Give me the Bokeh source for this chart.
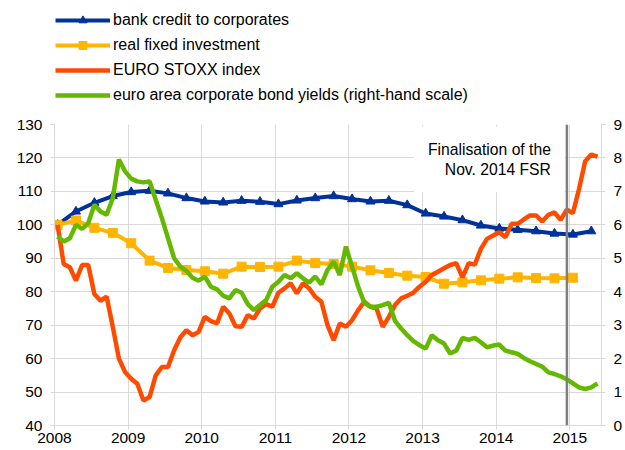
import numpy as np
from bokeh.plotting import figure
from bokeh.layouts import column
from bokeh.models import (Range1d, LinearAxis, Span, Label, Legend, LegendItem,
                          FixedTicker)
from bokeh.embed import file_html
from bokeh.resources import INLINE

# ---------------- data ----------------
years = [2008, 2009, 2010, 2011, 2012, 2013, 2014, 2015]
left_ticks = [40, 50, 60, 70, 80, 90, 100, 110, 120, 130]
right_ticks = [0, 1, 2, 3, 4, 5, 6, 7, 8, 9]

# monthly observations Jan 2008 .. May 2015 (plotted mid-month)
month_index = np.arange(89)
month_t = 2008 + (month_index + 0.5) / 12
# quarterly observations 2008Q1 .. 2014Q4 (plotted at first month of quarter)
quarter_index = np.arange(29)
quarter_t = 2008 + (3 * quarter_index + 0.5) / 12
credit_t = np.append(quarter_t, 2008 + (87 + 0.5) / 12)  # last obs: Apr 2015

bank_credit = [100.0, 104.0, 106.6, 108.6, 109.8, 110.2, 109.4, 108.0, 107.0, 106.7,
               107.2, 106.9, 106.2, 107.3, 108.0, 108.6, 107.7, 107.0, 107.2, 105.9,
               103.4, 102.5, 101.4, 99.8, 98.9, 98.5, 98.1, 97.4, 97.1, 98.1]

fixed_investment = [100.0, 101.3, 99.1, 97.6, 94.5, 89.3, 87.1, 86.5, 86.1, 85.4,
                    87.5, 87.4, 87.5, 89.3, 88.6, 88.3, 87.5, 86.4, 85.6, 84.8,
                    84.4, 82.4, 82.8, 83.4, 83.9, 84.3, 84.1, 84.0, 84.2]

euro_stoxx = [100.0, 88.3, 87.3, 83.3, 88.0, 88.0, 79.3, 77.3, 78.5, 69.5,
              60.0, 56.0, 54.0, 52.5, 47.5, 48.5, 55.0, 57.5, 57.5, 62.5,
              66.3, 68.5, 67.0, 68.0, 72.5, 71.2, 70.5, 75.5, 73.5, 69.7,
              69.5, 73.0, 72.0, 75.0, 76.3, 75.5, 79.7, 81.0, 82.5, 79.5,
              82.5, 81.0, 78.5, 77.0, 70.0, 65.5, 70.5, 69.5, 71.5, 74.5,
              77.0, 75.5, 75.0, 69.5, 72.5, 76.0, 78.0, 78.8, 79.7, 81.5,
              83.0, 85.0, 86.0, 87.0, 88.0, 88.5, 84.3, 88.5, 88.1, 92.8,
              95.8, 96.8, 97.8, 96.3, 100.3, 100.3, 101.6, 102.8, 102.8, 101.0,
              103.0, 103.7, 101.5, 104.5, 103.5, 110.7, 119.0, 121.0, 120.4]

bond_yields = [5.65, 5.50, 5.60, 6.00, 5.88, 6.05, 6.60, 6.40, 6.30, 6.80,
               7.95, 7.60, 7.38, 7.30, 7.27, 7.30, 6.75, 6.20, 5.60, 5.00,
               4.75, 4.62, 4.42, 4.33, 4.45, 4.15, 4.07, 3.88, 3.80, 4.05,
               3.97, 3.63, 3.45, 3.60, 3.75, 4.15, 4.30, 4.50, 4.40, 4.55,
               4.40, 4.27, 4.45, 4.22, 4.65, 4.90, 4.50, 5.35, 4.75, 4.15,
               3.67, 3.55, 3.55, 3.60, 3.67, 3.13, 2.90, 2.70, 2.52, 2.40,
               2.30, 2.70, 2.55, 2.45, 2.15, 2.24, 2.62, 2.56, 2.62, 2.49,
               2.34, 2.39, 2.42, 2.24, 2.19, 2.14, 2.02, 1.92, 1.84, 1.76,
               1.59, 1.54, 1.47, 1.38, 1.26, 1.14, 1.09, 1.14, 1.26]

fsr_date = 2014.96
fsr_text = "Finalisation of the\nNov. 2014 FSR"

labels = ["bank credit to corporates", "real fixed investment", "EURO STOXX index",
          "euro area corporate bond yields (right-hand scale)"]

BLUE, YELLOW, ORANGE, GREEN = "#003299", "#FFB400", "#FF4B00", "#65B800"
GRID = "#D9D9D9"
FONT = "Liberation Sans"

# ---------------- main chart ----------------
p = figure(width=625, height=336, output_backend="svg", toolbar_location=None,
           x_range=Range1d(2008, 2015.43), y_range=Range1d(40, 130),
           min_border_left=54, min_border_right=24, min_border_top=10,
           min_border_bottom=25)
p.extra_y_ranges = {"right": Range1d(0, 9)}
p.outline_line_color = None
p.background_fill_color = "white"

p.xaxis.ticker = FixedTicker(ticks=years)
p.yaxis.ticker = FixedTicker(ticks=left_ticks)
p.xgrid.ticker = FixedTicker(ticks=years)
p.ygrid.ticker = FixedTicker(ticks=left_ticks)
for g in (p.xgrid, p.ygrid):
    g.grid_line_color = GRID
    g.grid_line_width = 1

raxis = LinearAxis(y_range_name="right", ticker=FixedTicker(ticks=right_ticks))
p.add_layout(raxis, "right")

for ax in (p.xaxis[0], p.yaxis[0], raxis):
    ax.axis_line_color = GRID
    ax.major_tick_line_color = GRID
    ax.major_tick_out = 4
    ax.major_tick_in = 0
    ax.minor_tick_line_color = None
    ax.major_label_text_font = FONT
    ax.major_label_text_font_size = "15.5px"
    ax.major_label_text_color = "black"
p.yaxis[0].major_label_standoff = 8
raxis.major_label_standoff = 8
p.xaxis[0].major_label_standoff = 3

r_bl = p.line(credit_t, bank_credit, line_color=BLUE, line_width=4)
r_bm = p.scatter(credit_t, bank_credit, marker="triangle", size=9,
                 fill_color=BLUE, line_color=BLUE)
r_yl = p.line(quarter_t, fixed_investment, line_color=YELLOW, line_width=4)
r_ym = p.scatter(quarter_t, fixed_investment, marker="square", size=9,
                 fill_color=YELLOW, line_color=YELLOW)
r_o = p.line(month_t, euro_stoxx, line_color=ORANGE, line_width=4.5)
r_g = p.line(month_t, bond_yields, line_color=GREEN, line_width=4.5,
             y_range_name="right")

p.add_layout(Span(location=fsr_date, dimension="height", line_color="#7F7F7F",
                  line_width=2.5))
p.add_layout(Label(x=fsr_date, y=130, x_offset=-2, y_offset=-2, text=fsr_text,
                   text_align="right", text_baseline="top", text_font=FONT,
                   text_font_size="15.7px", text_color="black",
                   background_fill_color="white", padding=14))

# ---------------- legend strip (same styles, no visible data) ----------------
lg = figure(width=625, height=114, output_backend="svg", toolbar_location=None,
            x_axis_type=None, y_axis_type=None, min_border=0,
            x_range=Range1d(0, 1), y_range=Range1d(0, 1))
lg.outline_line_color = None
lg.xgrid.visible = False
lg.ygrid.visible = False
nan = [np.nan]
k_bl = lg.line(nan, nan, line_color=BLUE, line_width=4)
k_bm = lg.scatter(nan, nan, marker="triangle", size=9, fill_color=BLUE, line_color=BLUE)
k_yl = lg.line(nan, nan, line_color=YELLOW, line_width=4)
k_ym = lg.scatter(nan, nan, marker="square", size=9, fill_color=YELLOW, line_color=YELLOW)
k_o = lg.line(nan, nan, line_color=ORANGE, line_width=4.5)
k_g = lg.line(nan, nan, line_color=GREEN, line_width=4.5)

legend = Legend(items=[LegendItem(label=labels[0], renderers=[k_bl, k_bm]),
                       LegendItem(label=labels[1], renderers=[k_yl, k_ym]),
                       LegendItem(label=labels[2], renderers=[k_o]),
                       LegendItem(label=labels[3], renderers=[k_g])],
                location=(1, 9), orientation="vertical",
                glyph_width=55, glyph_height=20, label_height=20, spacing=5,
                padding=0, margin=0, label_standoff=3,
                border_line_alpha=0, background_fill_alpha=0,
                label_text_font=FONT, label_text_font_size="16px",
                label_text_color="black")
lg.add_layout(legend, "center")

layout = column(lg, p, spacing=0)
open("out.html", "w").write(file_html(layout, INLINE))
